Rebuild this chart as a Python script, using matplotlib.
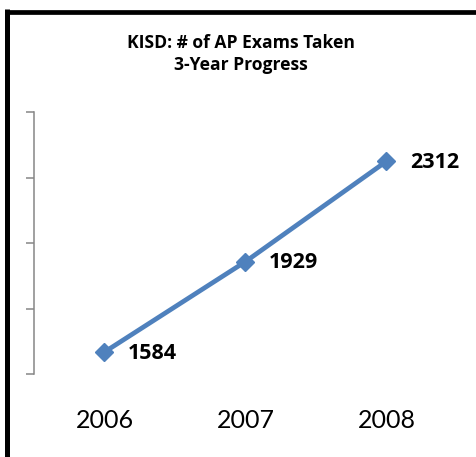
# -----------------------------
#   IMPORTS
# -----------------------------
import matplotlib
matplotlib.use("Agg")
import matplotlib.pyplot as plt
from matplotlib.lines import Line2D

# -----------------------------
#   DATA
# -----------------------------
years = ["2006", "2007", "2008"]
exams = [1584, 1929, 2312]
y_ticks = [1500, 1750, 2000, 2250, 2500]
title_text = "KISD: # of AP Exams Taken\n3-Year Progress"

plt.rcParams["font.family"] = ["Lato", "DejaVu Sans"]
BOLD_FONT = ["Open Sans", "DejaVu Sans"]

W, H = 477, 457
fig = plt.figure(figsize=(W / 100, H / 100), dpi=100)
fig.patch.set_facecolor("white")

# Axes placed in pixel coordinates of the reference
ax = fig.add_axes([34 / W, 83 / H, (457 - 34) / W, (374 - 112) / H])
x = list(range(len(years)))
ax.plot(x, exams, color="#4F81BD", linewidth=3.4, marker="D",
        markersize=8.8, markerfacecolor="#4F81BD", markeredgecolor="#4F81BD",
        solid_capstyle="butt", zorder=3)

# Data labels to the right of each point
for xi, v in zip(x, exams):
    ax.annotate(str(v), (xi, v), xytext=(17, -1), textcoords="offset points",
                ha="left", va="center", fontsize=15.5, fontweight="bold",
                family=BOLD_FONT, color="black")

ax.set_xlim(-0.5, len(years) - 0.5)
ax.set_ylim(y_ticks[0], y_ticks[-1])
ax.set_yticks(y_ticks)
ax.set_yticklabels([])
ax.set_xticks(x)
ax.set_xticklabels(years, fontsize=18)
ax.tick_params(axis="x", length=0, pad=25)
ax.tick_params(axis="y", length=6, width=1.1, color="#868686", direction="out")
for side in ["top", "right", "bottom"]:
    ax.spines[side].set_visible(False)
ax.spines["left"].set_color("#868686")
ax.spines["left"].set_linewidth(1.1)

# Title
fig.text(241 / W, 1 - 34 / H, title_text, ha="center", va="top",
         fontsize=12.6, fontweight="bold", family=BOLD_FONT, linespacing=1.3)

# Black frame on left and top (cropped chart border)
fig.add_artist(Line2D([7.5 / W, 7.5 / W], [0, 1 - 9.3 / H], color="black",
                      linewidth=3.6, transform=fig.transFigure,
                      solid_capstyle="butt"))
fig.add_artist(Line2D([5 / W, 476 / W], [1 - 11.7 / H, 1 - 11.7 / H],
                      color="black", linewidth=3.4,
                      transform=fig.transFigure, solid_capstyle="butt"))

fig.savefig("out.png", dpi=100)
